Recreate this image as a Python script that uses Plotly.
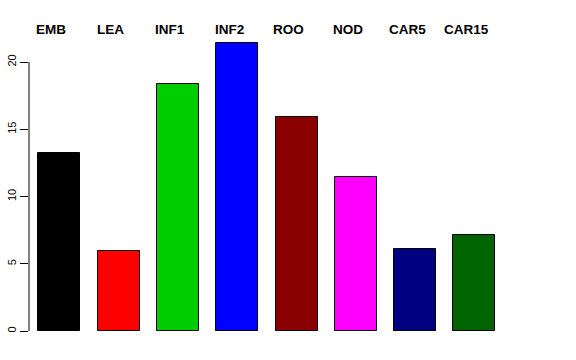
import plotly.graph_objects as go

categories = ["EMB", "LEA", "INF1", "INF2", "ROO", "NOD", "CAR5", "CAR15"]
values = [13.23, 5.95, 18.36, 21.43, 15.9, 11.45, 6.07, 7.14]
colors = ["#000000", "#FF0000", "#00CD00", "#0000FF", "#8B0000", "#FF00FF", "#000080", "#006400"]
y_ticks = [0, 5, 10, 15, 20]

fig = go.Figure()
fig.add_trace(go.Bar(
    x=categories, y=values,
    marker=dict(color=colors, line=dict(color="#000000", width=1)),
    width=0.708,
    showlegend=False,
    hoverinfo="x+y",
))

for c in categories:
    fig.add_annotation(
        x=c, xref="x", y=1.0378, yref="paper", yanchor="middle",
        text="<b>%s</b>" % c, showarrow=False, xshift=-8,
        font=dict(family="Liberation Sans, Arial, sans-serif", size=13.5, color="#000000"),
    )

# R-style y axis line spanning only the tick range
fig.add_shape(type="line", xref="paper", yref="y", x0=0, x1=0,
              y0=min(y_ticks), y1=max(y_ticks), line=dict(color="#000000", width=1))

fig.update_layout(
    width=576, height=360,
    margin=dict(l=29, r=30, t=40, b=29, autoexpand=False),
    plot_bgcolor="white", paper_bgcolor="white",
    font=dict(family="Liberation Sans, Arial, sans-serif", color="#000000"),
    xaxis=dict(range=[-0.511, 8.207], showticklabels=False, showline=False,
               showgrid=False, zeroline=False, ticks="", automargin=False),
    yaxis=dict(range=[0, 21.64], tickvals=y_ticks, ticks="outside", ticklen=8,
               tickcolor="#000000", tickwidth=1, tickangle=-90,
               tickfont=dict(size=11, color="#000000"), showline=False,
               showgrid=False, zeroline=False, ticklabelstandoff=0,
               automargin=False),
    bargap=0,
)

fig.write_html("out.html", config={"displayModeBar": False},
               post_script="document.body.style.margin='0px';")
